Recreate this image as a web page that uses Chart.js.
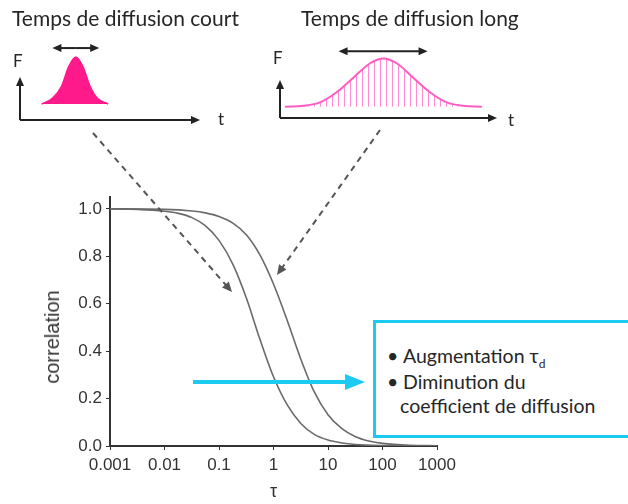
<!DOCTYPE html>
<html>
<head>
<meta charset="utf-8">
<script src="https://cdn.jsdelivr.net/npm/chart.js@4.4.0/dist/chart.umd.min.js"></script>
<style>
  html, body { margin: 0; padding: 0; background: #fff; overflow: hidden; }
  #wrap { position: relative; width: 628px; height: 504px; overflow: hidden; font-family: Lato, "Open Sans", sans-serif; color: #262626; }
  canvas { position: absolute; }
  .lbl { position: absolute; white-space: nowrap; line-height: 1; }
  .title { font-size: 21px; }
  .ax { font-size: 17px; }
  #ylab { position: absolute; left: 52px; top: 337px; transform: translate(-50%, -50%) rotate(-90deg); font-family: "Liberation Sans", Arial, sans-serif; font-size: 20px; color: #333; white-space: nowrap; line-height: 1; }
  #box { position: absolute; left: 373px; top: 320px; width: 290px; height: 118px; box-sizing: border-box; border: 3px solid #1ccbf0; background: #fff; }
  #box .row { position: absolute; font-size: 19.5px; line-height: 25px; white-space: nowrap; }
</style>
</head>
<body>
<div id="wrap">
  <canvas id="main" width="628" height="504" style="left:0;top:0"></canvas>
  <canvas id="short" width="250" height="140" style="left:0;top:0"></canvas>
  <canvas id="long" width="280" height="140" style="left:260px;top:0"></canvas>

  <span class="lbl title" style="left:12px;top:7px">Temps de diffusion court</span>
  <span class="lbl title" style="left:301px;top:7px">Temps de diffusion long</span>
  <span class="lbl ax" style="left:13px;top:52px">F</span>
  <span class="lbl ax" style="left:218px;top:110px">t</span>
  <span class="lbl ax" style="left:273px;top:49px">F</span>
  <span class="lbl ax" style="left:508px;top:111px">t</span>
  <span id="ylab">correlation</span>

  <div id="box">
    <div class="row" style="left:11px;top:20px">•</div>
    <div class="row" style="left:27px;top:20px">Augmentation τ<sub style="font-size:12px">d</sub></div>
    <div class="row" style="left:11px;top:46px">•</div>
    <div class="row" style="left:27px;top:46px">Diminution du</div>
    <div class="row" style="left:24px;top:70px">coefficient de diffusion</div>
  </div>
</div>

<script>
// axes
const tauTicks = [0.001, 0.01, 0.1, 1, 10, 100, 1000];
const corrTicks = [0, 0.2, 0.4, 0.6, 0.8, 1.0];

// courbe rapide (gauche)
const tauFast  = [0.001, 0.0032, 0.01, 0.018, 0.032, 0.056, 0.1, 0.18, 0.32, 0.56, 1, 1.8, 3.2, 5.6, 10, 18, 32, 100, 320];
const corrFast = [1.0, 0.998, 0.99, 0.981, 0.963, 0.929, 0.867, 0.766, 0.622, 0.452, 0.292, 0.172, 0.094, 0.049, 0.025, 0.013, 0.0065, 0.0016, 0];

// courbe lente (droite)
const tauSlow  = [0.001, 0.01, 0.032, 0.056, 0.1, 0.18, 0.32, 0.56, 1, 1.8, 3.2, 5.6, 10, 18, 32, 56, 100, 320, 1000];
const corrSlow = [1.0, 0.998, 0.991, 0.983, 0.968, 0.94, 0.89, 0.807, 0.683, 0.527, 0.364, 0.228, 0.132, 0.073, 0.039, 0.021, 0.011, 0.003, 0.001];

// petits graphes F(t)
const tShort = [12, 18, 23, 27, 31, 35, 39, 43, 49];
const fShort = [0, 0.12, 0.37, 0.79, 1, 0.79, 0.37, 0.12, 0];
const tLong = [2.3, 10.7, 18.4, 26.1, 33.8, 41.5, 47.6, 53.8, 61.4, 69.1, 76.8, 84.5, 93];
const fLong = [0, 0.02, 0.09, 0.3, 0.6, 0.9, 1, 0.9, 0.6, 0.3, 0.09, 0.02, 0];

const CYAN = '#1ccbf0';
const AXIS = '#333';

function arrowHead(ctx, x1, y1, x2, y2, len, half, color) {
    const a = Math.atan2(y2 - y1, x2 - x1);
    ctx.save();
    ctx.fillStyle = color;
    ctx.beginPath();
    ctx.moveTo(x2, y2);
    ctx.lineTo(x2 - len * Math.cos(a) + half * Math.sin(a), y2 - len * Math.sin(a) - half * Math.cos(a));
    ctx.lineTo(x2 - len * Math.cos(a) - half * Math.sin(a), y2 - len * Math.sin(a) + half * Math.cos(a));
    ctx.closePath();
    ctx.fill();
    ctx.restore();
}

function arrow(ctx, x1, y1, x2, y2, opt) {
    const a = Math.atan2(y2 - y1, x2 - x1);
    ctx.save();
    ctx.strokeStyle = opt.color;
    ctx.lineWidth = opt.width;
    ctx.setLineDash(opt.dash || []);
    ctx.beginPath();
    ctx.moveTo(x1, y1);
    ctx.lineTo(x2 - opt.len * 0.8 * Math.cos(a), y2 - opt.len * 0.8 * Math.sin(a));
    ctx.stroke();
    ctx.restore();
    arrowHead(ctx, x1, y1, x2, y2, opt.len, opt.half, opt.color);
}

// fleches du schema principal
const mainArrows = {
    id: 'mainArrows',
    afterDraw(chart) {
        const ctx = chart.ctx;
        const dashed = { color: '#555', width: 2, dash: [6, 5], len: 10, half: 4.5 };
        arrow(ctx, 93, 133, 232, 292, dashed);
        arrow(ctx, 380, 130, 277, 275, dashed);
        arrow(ctx, 193, 382, 365, 382, { color: CYAN, width: 4, len: 20, half: 8 });
    }
};

// axes flechés + double fleche des petits graphes
const insetAxes = {
    id: 'insetAxes',
    afterDraw(chart, args, opts) {
        const ctx = chart.ctx;
        const { left, right, bottom } = chart.chartArea;
        const xs = chart.scales.x, ys = chart.scales.y;
        const blk = { color: '#222', width: 2, len: 9, half: 4 };
        arrow(ctx, left, bottom, left, ys.getPixelForValue(opts.axisTop), blk);
        arrow(ctx, left, bottom, right, bottom, blk);
        const y = ys.getPixelForValue(opts.level);
        const xa = xs.getPixelForValue(opts.span[0]);
        const xb = xs.getPixelForValue(opts.span[1]);
        const mid = (xa + xb) / 2;
        arrow(ctx, mid, y, xa, y, blk);
        arrow(ctx, mid, y, xb, y, blk);
    }
};

function pts(xs, ys) {
    return xs.map((x, i) => ({ x: x, y: ys[i] }));
}

const tickFont = { family: '"Liberation Sans", Arial, sans-serif', size: 17 };

new Chart(document.getElementById('main'), {
    type: 'line',
    data: {
        datasets: [
            { data: pts(tauFast, corrFast), borderColor: '#6a6a6a', borderWidth: 1.6, pointRadius: 0, cubicInterpolationMode: 'monotone' },
            { data: pts(tauSlow, corrSlow), borderColor: '#6a6a6a', borderWidth: 1.6, pointRadius: 0, cubicInterpolationMode: 'monotone' }
        ]
    },
    options: {
        responsive: false,
        animation: false,
        events: [],
        layout: { padding: { top: 197, right: 191, left: 0, bottom: 0 } },
        plugins: { legend: { display: false }, tooltip: { enabled: false } },
        scales: {
            x: {
                type: 'logarithmic',
                min: 0.001,
                max: 1000,
                afterBuildTicks: s => { s.ticks = tauTicks.map(v => ({ value: v })); },
                afterFit: s => { s.height = 58; },
                ticks: { autoSkip: false, maxRotation: 0, padding: 5, color: AXIS, font: tickFont, callback: v => String(v) },
                grid: { drawOnChartArea: false, tickLength: 4, color: AXIS },
                border: { color: AXIS, width: 2 },
                title: { display: true, text: 'τ', color: AXIS, font: { family: '"Liberation Sans", Arial, sans-serif', size: 18 }, padding: { top: 0, bottom: 1 } }
            },
            y: {
                min: 0,
                max: 1.05,
                afterBuildTicks: s => { s.ticks = corrTicks.map(v => ({ value: v })); },
                afterFit: s => { s.width = 110; },
                ticks: { padding: 4, color: AXIS, font: tickFont, callback: v => v.toFixed(1) },
                grid: { drawOnChartArea: false, tickLength: 4, color: AXIS },
                border: { color: AXIS, width: 2 }
            }
        }
    },
    plugins: [mainArrows]
});

function insetOptions(pad, yMin, yMax, axisTop, span, level) {
    return {
        responsive: false,
        animation: false,
        events: [],
        layout: { padding: pad },
        plugins: { legend: { display: false }, tooltip: { enabled: false }, insetAxes: { axisTop: axisTop, span: span, level: level } },
        scales: {
            x: { type: 'linear', display: false, min: 0, max: 100 },
            y: { display: false, min: yMin, max: yMax }
        }
    };
}

new Chart(document.getElementById('short'), {
    type: 'line',
    data: {
        datasets: [{
            data: pts(tShort, fShort),
            borderColor: '#ff1a8c', backgroundColor: '#ff1a8c', borderWidth: 1.5,
            fill: 'origin', pointRadius: 0, cubicInterpolationMode: 'monotone'
        }]
    },
    options: insetOptions({ left: 20, right: 50, top: 30, bottom: 20 }, -0.34, 1.574, 0.574, [18, 44], 1.19),
    plugins: [insetAxes]
});

// hachures verticales
const pc = document.createElement('canvas');
pc.width = 6; pc.height = 4;
const pctx = pc.getContext('2d');
pctx.fillStyle = 'rgba(255,120,205,0.85)';
pctx.fillRect(0, 0, 1, 4);
const hatch = pctx.createPattern(pc, 'repeat');

new Chart(document.getElementById('long'), {
    type: 'line',
    data: {
        datasets: [{
            data: pts(tLong, fLong),
            borderColor: '#ff5cc4', backgroundColor: hatch, borderWidth: 2,
            fill: 'origin', pointRadius: 0, cubicInterpolationMode: 'monotone'
        }]
    },
    options: insetOptions({ left: 20, right: 43, top: 30, bottom: 22 }, -0.234, 1.588, 0.553, [27, 68], 1.15),
    plugins: [insetAxes]
});
</script>
</body>
</html>
